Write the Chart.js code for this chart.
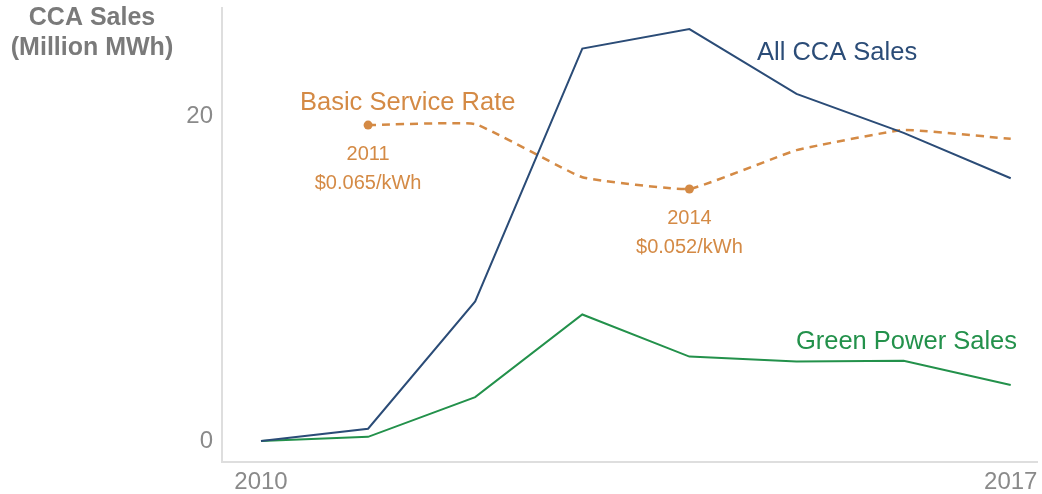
<!DOCTYPE html>
<html>
<head>
<meta charset="utf-8">
<script src="https://cdn.jsdelivr.net/npm/chart.js@4/dist/chart.umd.min.js"></script>
<style>
html,body{margin:0;padding:0;background:#fff;}
#wrap{width:1042px;height:494px;position:relative;}
</style>
</head>
<body>
<div id="wrap"><canvas id="c" width="1042" height="494"></canvas></div>
<script>
const years = [2010, 2011, 2012, 2013, 2014, 2015, 2016, 2017];
const allCcaSales = [0, 0.75, 8.6, 24.2, 25.4, 21.4, 19.0, 16.2];
const greenPowerSales = [0, 0.25, 2.7, 7.8, 5.2, 4.9, 4.95, 3.45];
const rateYears = [2011, 2012, 2013, 2014, 2015, 2016, 2017];
const basicServiceRate = [0.065, 0.0652, 0.0544, 0.052, 0.0599, 0.064, 0.0622];
const rateCallouts = [
  { year: 2011, rate: 0.065, lines: ['2011', '$0.065/kWh'] },
  { year: 2014, rate: 0.052, lines: ['2014', '$0.052/kWh'] }
];
const yTicks = [0, 20];
const xTicks = [2010, 2017];

const BLUE = '#2b4c77';
const GREEN = '#23914b';
const ORANGE = '#d48a45';
const GRAY = '#8a8a8a';
const FONT = 'Arial, "Liberation Sans", sans-serif';

const toPts = (xs, ys) => xs.map((x, i) => ({ x: x, y: ys[i] }));

const labelPlugin = {
  id: 'labels',
  afterDatasetsDraw(chart) {
    const ctx = chart.ctx;
    const x = chart.scales.x, y2 = chart.scales.y2;
    ctx.save();
    ctx.textAlign = 'center';
    ctx.textBaseline = 'middle';
    ctx.fillStyle = '#7a7a7a';
    ctx.font = 'bold 25px ' + FONT;
    ctx.fillText('CCA Sales', 92, 18);
    ctx.fillText('(Million MWh)', 92, 48);
    ctx.font = '25.5px ' + FONT;
    ctx.textAlign = 'left';
    ctx.fillStyle = BLUE;
    ctx.fillText('All CCA Sales', 757, 53);
    ctx.fillStyle = ORANGE;
    ctx.fillText('Basic Service Rate', 300, 103);
    ctx.fillStyle = GREEN;
    ctx.textAlign = 'right';
    ctx.fillText('Green Power Sales', 1017, 342);
    ctx.textAlign = 'center';
    ctx.fillStyle = ORANGE;
    ctx.font = '20px ' + FONT;
    rateCallouts.forEach(c => {
      const px = x.getPixelForValue(c.year);
      const py = y2.getPixelForValue(c.rate);
      ctx.fillText(c.lines[0], px, py + 29);
      ctx.fillText(c.lines[1], px, py + 58);
    });
    ctx.restore();
  }
};

new Chart(document.getElementById('c'), {
  type: 'line',
  data: {
    datasets: [
      {
        label: 'All CCA Sales',
        data: toPts(years, allCcaSales),
        borderColor: BLUE,
        borderWidth: 2,
        pointRadius: 0,
        tension: 0,
        yAxisID: 'y'
      },
      {
        label: 'Green Power Sales',
        data: toPts(years, greenPowerSales),
        borderColor: GREEN,
        borderWidth: 2,
        pointRadius: 0,
        tension: 0,
        yAxisID: 'y'
      },
      {
        label: 'Basic Service Rate',
        data: toPts(rateYears, basicServiceRate),
        borderColor: ORANGE,
        backgroundColor: ORANGE,
        borderWidth: 2.5,
        borderDash: [8, 6],
        pointRadius: (c) => rateCallouts.some(r => r.year === rateYears[c.dataIndex]) ? 4.5 : 0,
        pointBorderWidth: 0,
        tension: 0.1,
        yAxisID: 'y2'
      }
    ]
  },
  options: {
    responsive: false,
    animation: false,
    layout: { padding: { top: 8, right: 0, left: 0, bottom: 0 } },
    plugins: { legend: { display: false }, tooltip: { enabled: false } },
    scales: {
      x: {
        type: 'linear',
        min: 2009.636,
        max: 2017.25,
        afterBuildTicks: (s) => { s.ticks = xTicks.map(v => ({ value: v })); },
        afterFit: (s) => { s.height = 32; s.paddingLeft = 0; s.paddingRight = 0; },
        grid: { color: 'rgba(0,0,0,0)', drawTicks: false },
        border: { display: true, color: '#dedede', width: 2 },
        ticks: {
          color: GRAY,
          font: { size: 24, family: FONT },
          padding: 6,
          maxRotation: 0,
          autoSkip: false,
          callback: (v) => String(v)
        }
      },
      y: {
        type: 'linear',
        position: 'left',
        min: -1.3,
        max: 26.7,
        afterBuildTicks: (s) => { s.ticks = yTicks.map(v => ({ value: v })); },
        afterFit: (s) => { s.width = 222; s.paddingTop = 0; s.paddingBottom = 0; },
        grid: { color: 'rgba(0,0,0,0)', drawTicks: false },
        border: { display: true, color: '#dedede', width: 2 },
        ticks: {
          color: GRAY,
          font: { size: 24, family: FONT },
          padding: 9,
          callback: (v) => String(v)
        }
      },
      y2: {
        type: 'linear',
        display: false,
        min: -0.0035,
        max: 0.0888
      }
    }
  },
  plugins: [labelPlugin]
});
</script>
</body>
</html>
